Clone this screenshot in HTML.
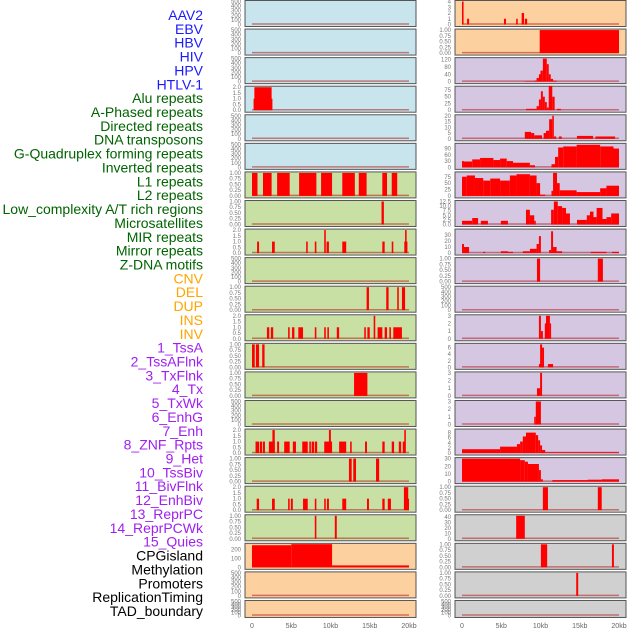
<!DOCTYPE html>
<html><head><meta charset="utf-8"><style>
body{margin:0;background:#fff;}
svg{display:block;font-family:"Liberation Sans",sans-serif;}
</style></head><body>
<svg id="chart" width="630" height="630" xmlns="http://www.w3.org/2000/svg"></svg>
<script>
const trackLabels=["AAV2","EBV","HBV","HIV","HPV","HTLV-1","Alu repeats","A-Phased repeats","Directed repeats","DNA transposons","G-Quadruplex forming repeats","Inverted repeats","L1 repeats","L2 repeats","Low_complexity A/T rich regions","Microsatellites","MIR repeats","Mirror repeats","Z-DNA motifs","CNV","DEL","DUP","INS","INV","1_TssA","2_TssAFlnk","3_TxFlnk","4_Tx","5_TxWk","6_EnhG","7_Enh","8_ZNF_Rpts","9_Het","10_TssBiv","11_BivFlnk","12_EnhBiv","13_ReprPC","14_ReprPCWk","15_Quies","CPGisland","Methylation","Promoters","ReplicationTiming","TAD_boundary"];
const labelGroups=[6,13,5,15,5];
const groupColors=["#1a1aff","#006400","#ffa500","#a020f0","#000000"];
const leftBg=["#c8e4ec","#c8e4ec","#c8e4ec","#c8e4ec","#c8e4ec","#c8e4ec","#c8e0a4","#c8e0a4","#c8e0a4","#c8e0a4","#c8e0a4","#c8e0a4","#c8e0a4","#c8e0a4","#c8e0a4","#c8e0a4","#c8e0a4","#c8e0a4","#c8e0a4","#fdd09f","#fdd09f","#fdd09f"];
const rightBg=["#fdd09f","#fdd09f","#d5c6e2","#d5c6e2","#d5c6e2","#d5c6e2","#d5c6e2","#d5c6e2","#d5c6e2","#d5c6e2","#d5c6e2","#d5c6e2","#d5c6e2","#d5c6e2","#d5c6e2","#d5c6e2","#d5c6e2","#d0d0d0","#d0d0d0","#d0d0d0","#d0d0d0","#d0d0d0"];
const leftYmax=[500,500,500,2,500,500,1,1,2,500,1,2,1,1,500,2,1,2,1,260,500,500];
const rightYmax=[4,1,125,85,20,110,90,12.5,38,1,500,3,7,3,3,9,30,1,42,1,1,500];
const ticksEmpty=["0","100","200","300","400","500"];
const ticks1=["0.00","0.25","0.50","0.75","1.00"];
const ticks2=["0.0","0.5","1.0","1.5","2.0"];
const leftTicks=[ticksEmpty,ticksEmpty,ticksEmpty,ticks2,ticksEmpty,ticksEmpty,ticks1,ticks1,ticks2,ticksEmpty,ticks1,ticks2,ticks1,ticks1,ticksEmpty,ticks2,ticks1,ticks2,ticks1,["0","100","200"],ticksEmpty,ticksEmpty];
const rightTicks=[["0","1","2","3","4"],ticks1,["0","40","80","120"],["0","25","50","75"],["0","5","10","15","20"],["0","30","60","90"],["0","25","50","75"],["0.0","2.5","5.0","7.5","10.0","12.5"],["0","10","20","30"],ticks1,ticksEmpty,["0","1","2","3"],["0","2","4","6"],["0","1","2","3"],["0","1","2","3"],["0","2","4","6","8"],["0","10","20","30"],ticks1,["0","10","20","30","40"],ticks1,ticks1,ticksEmpty];
// bins: [startKb, endKb, value]
const leftBins=[
[],[],[],
[[0.2,2.6,1],[0.3,2.5,2]],
[],[],
[[0,0.7,1],[1.4,2.5,1],[3.2,4.8,1],[6,8.2,1],[8.8,10.2,1],[11.5,13.1,1],[13.6,14.6,1],[16.6,17.2,1],[17.8,18.5,1]],
[[16.5,16.8,1]],
[[0.65,0.9,1],[2.55,2.9,1],[6.9,7.1,1],[8,8.2,1],[9.2,9.4,2],[9.5,9.8,1],[11.5,12,1],[16.6,16.9,1],[17.8,18,1],[19.4,19.8,1],[19.5,19.7,2]],
[],
[[14.6,14.9,1],[17.1,17.4,1],[18.5,18.7,1],[19.1,19.5,1]],
[[1.9,2.2,1],[2.4,2.7,1],[4.6,4.8,1],[5.1,5.4,1],[5.9,6.5,1],[8,8.2,1],[9.2,9.4,1],[9.6,9.8,1],[10.8,11.1,1],[14.3,14.5,1],[14.7,15,1],[15.5,15.7,2],[16,16.6,1],[16.9,17.2,1],[17.5,17.7,1],[18,19.1,1]],
[[0,0.35,1],[0.5,0.9,1],[1.3,1.6,1]],
[[13,14.7,1]],
[],
[[0.45,0.9,1],[1,1.3,1],[1.4,1.65,1],[2.15,2.9,1],[2.6,2.9,2],[3.2,3.45,1],[4.1,4.8,1],[5.2,5.6,1],[6.4,7.1,1],[7.3,7.5,1],[7.6,7.9,1],[8,8.3,1],[9.2,10.2,1],[9.8,10.05,2],[11.1,12,1],[12.5,12.7,1],[14.4,14.65,1],[16.6,16.9,1],[17.8,18.1,1],[18.7,19,1],[19.2,19.5,1],[19.4,19.6,2]],
[[12.35,12.7,1],[12.9,13.25,1],[15.8,16.2,1]],
[[0.6,0.9,1],[2.55,2.9,1],[4.6,4.8,1],[4.95,5.2,1],[6.5,7.1,1],[8,8.2,1],[9.2,9.4,1],[9.55,9.8,1],[11.5,12,1],[14.65,14.9,1],[16.6,16.9,1],[17.3,17.7,1],[19.35,19.9,2],[19.75,20,1]],
[[8,8.2,1],[10.55,10.8,1]],
[[0,5,250],[5,10.2,262],[10.2,20,22]],
[],[]
];
const rightBins=[
[[0,0.2,4],[0.65,0.9,1],[5.35,5.6,1],[6.9,7.1,1],[7.6,7.9,2],[8,8.3,1]],
[[9.9,20,1]],
[[8,9.2,2],[9.2,9.5,5],[9.5,9.8,20],[9.8,10,40],[10,10.3,60],[10.3,10.8,125],[10.8,11.05,95],[11.05,11.3,40],[11.3,11.6,15],[11.6,12.05,5]],
[[8.15,9.5,5],[9.5,9.8,15],[9.8,10.05,40],[10.05,10.3,70],[10.3,10.55,50],[10.55,10.8,30],[10.8,11.05,10],[11.05,11.5,90],[11.5,11.8,50],[12.1,12.6,5]],
[[8,8.8,6],[8.8,9.2,5],[9.2,10.2,3],[10.4,10.7,5],[10.7,11.1,7],[11.1,11.5,17],[11.5,11.7,20],[11.7,12,2],[12.35,12.7,2],[14.65,16.7,2.5],[17,19.5,2]],
[[0,0.25,30],[0.25,1.3,28],[1.3,2.3,38],[2.3,4,45],[4,4.85,35],[4.85,5.7,42],[5.7,6.5,30],[6.5,8.65,22],[8.65,9.3,10],[11.4,11.85,15],[11.85,12.25,50],[12.25,12.9,95],[12.9,14.6,100],[14.6,17.6,108],[17.6,19.3,100],[19.3,20,90]],
[[0,0.6,75],[0.6,1.65,80],[1.65,2.7,70],[2.7,3.6,60],[3.6,4.85,68],[4.85,6.1,60],[6.1,6.95,80],[6.95,8.65,85],[8.65,9.5,80],[9.5,9.95,50],[9.95,10.6,5],[11.4,11.6,20],[11.6,12.1,90],[12.1,12.45,50],[12.45,14.6,22],[14.6,17.6,15],[17.6,18.4,30],[18.4,20,40]],
[[0,1.3,2],[1.3,2.05,3.5],[2.4,3.3,2],[4.95,5.85,2],[8.15,8.65,8],[8.65,9.2,5],[9.2,9.4,2],[11.35,11.7,8],[11.7,12.2,12.5],[12.2,12.75,10],[12.75,13.25,9],[13.25,13.75,6],[14.65,15.9,2.5],[15.9,16.3,5],[16.3,16.75,7],[16.75,17.15,4],[17.15,17.9,9],[17.9,18.4,3],[18.4,19,4],[19,20,6]],
[[0,0.25,15],[0.25,0.9,10],[2.7,2.95,2],[4.95,5.85,3],[5.85,6.5,2],[7.75,8.65,3],[8.65,9.5,7],[9.5,9.8,15],[9.8,10.05,28],[11.1,11.35,5],[11.35,11.6,36],[11.6,12.05,10],[12.05,12.75,3],[16.4,18.4,2],[19.1,20,2]],
[[9.55,9.95,1],[17.3,17.95,1]],
[],
[[9.8,10.05,3],[10.05,10.3,1],[10.55,10.7,2],[10.7,11.2,3],[11.2,11.35,2]],
[[9.8,10.4,1],[9.95,10.2,7],[10.2,10.45,6],[10.95,11.6,1]],
[[9.55,9.95,1],[9.95,10.2,3]],
[[9.2,9.4,1],[9.4,10.05,3]],
[[0,4.85,1.5],[4.85,7,2.5],[7,7.4,3.5],[7.4,7.75,4.5],[7.75,8.15,6.5],[8.15,9.4,8],[9.4,9.7,7],[9.7,9.95,5],[9.95,10.2,3],[10.2,10.6,1.2],[10.6,20,0.3]],
[[0,7.4,30],[7.4,8,28],[8,8.4,26],[8.4,9.8,23],[9.8,10.05,15],[10.05,10.3,3],[11.5,16,2],[16,17.8,2.5],[17.8,20,3]],
[[10.3,10.95,1],[17.3,17.8,1]],
[[6.9,8,42]],
[[10.05,10.85,1],[19.1,19.35,1]],
[[14.55,14.8,1]],
[]
];
const xTickLabels=["0","5kb","10kb","15kb","20kb"];
const xTickKb=[0,5,10,15,20];

const NS="http://www.w3.org/2000/svg";
const svg=document.getElementById("chart");
function mk(tag,attrs,parent){const e=document.createElementNS(NS,tag);for(const k in attrs)e.setAttribute(k,attrs[k]);(parent||svg).appendChild(e);return e;}
const rowStep=28.57, kbPx=7.85;
function rowTop(i){return i*rowStep;}
function rowH(i){return i===21?17:26;}
// labels
let li=0;
labelGroups.forEach((n,g)=>{for(let k=0;k<n;k++){
  const t=mk("text",{x:203,y:20+li*13.86,"text-anchor":"end","font-size":"14",fill:groupColors[g]});
  t.textContent=trackLabels[li];
  
  
  li++;}});
function panel(col,i,bg,ymax,ticks,bins){
  const x0=col===0?245:455, T=rowTop(i), H=rowH(i);
  const g=mk("g",{});
  
  
  mk("rect",{x:x0,y:T+0.5,width:171,height:H,fill:bg,stroke:"#555","stroke-width":1},g);
  const yb=T+H-1.5, yt=T+1.5;
  const ys=v=>yb-(v/ymax)*(yb-yt);
  const xs=kb=>x0+7+kb*kbPx;
  ticks.forEach(s=>{const v=parseFloat(s);
    const t=mk("text",{x:x0-4,y:ys(v)+2,"text-anchor":"end","font-size":"6",fill:"#777"},g);
    t.textContent=s;
    
    });
  mk("line",{x1:xs(0),x2:xs(20),y1:yb-0.5,y2:yb-0.5,stroke:"rgba(180,30,30,0.55)","stroke-width":1.5},g);
  bins.forEach(b=>{
    const r=mk("rect",{x:xs(b[0]),y:ys(b[2]),width:Math.max(1,xs(b[1])-xs(b[0])),height:yb-ys(b[2]),fill:"#ff0000"},g);
    
    
  });
}
for(let i=0;i<22;i++){
  panel(0,i,leftBg[i],leftYmax[i],leftTicks[i],leftBins[i]);
  panel(1,i,rightBg[i],rightYmax[i],rightTicks[i],rightBins[i]);
}
[0,1].forEach(col=>{const x0=col===0?245:455;
  xTickKb.forEach((kb,j)=>{
    const t=mk("text",{x:x0+7+kb*kbPx,y:628,"text-anchor":"middle","font-size":"7",fill:"#666"});
    t.textContent=xTickLabels[j];
    
    
  });});
</script>
</body></html>
